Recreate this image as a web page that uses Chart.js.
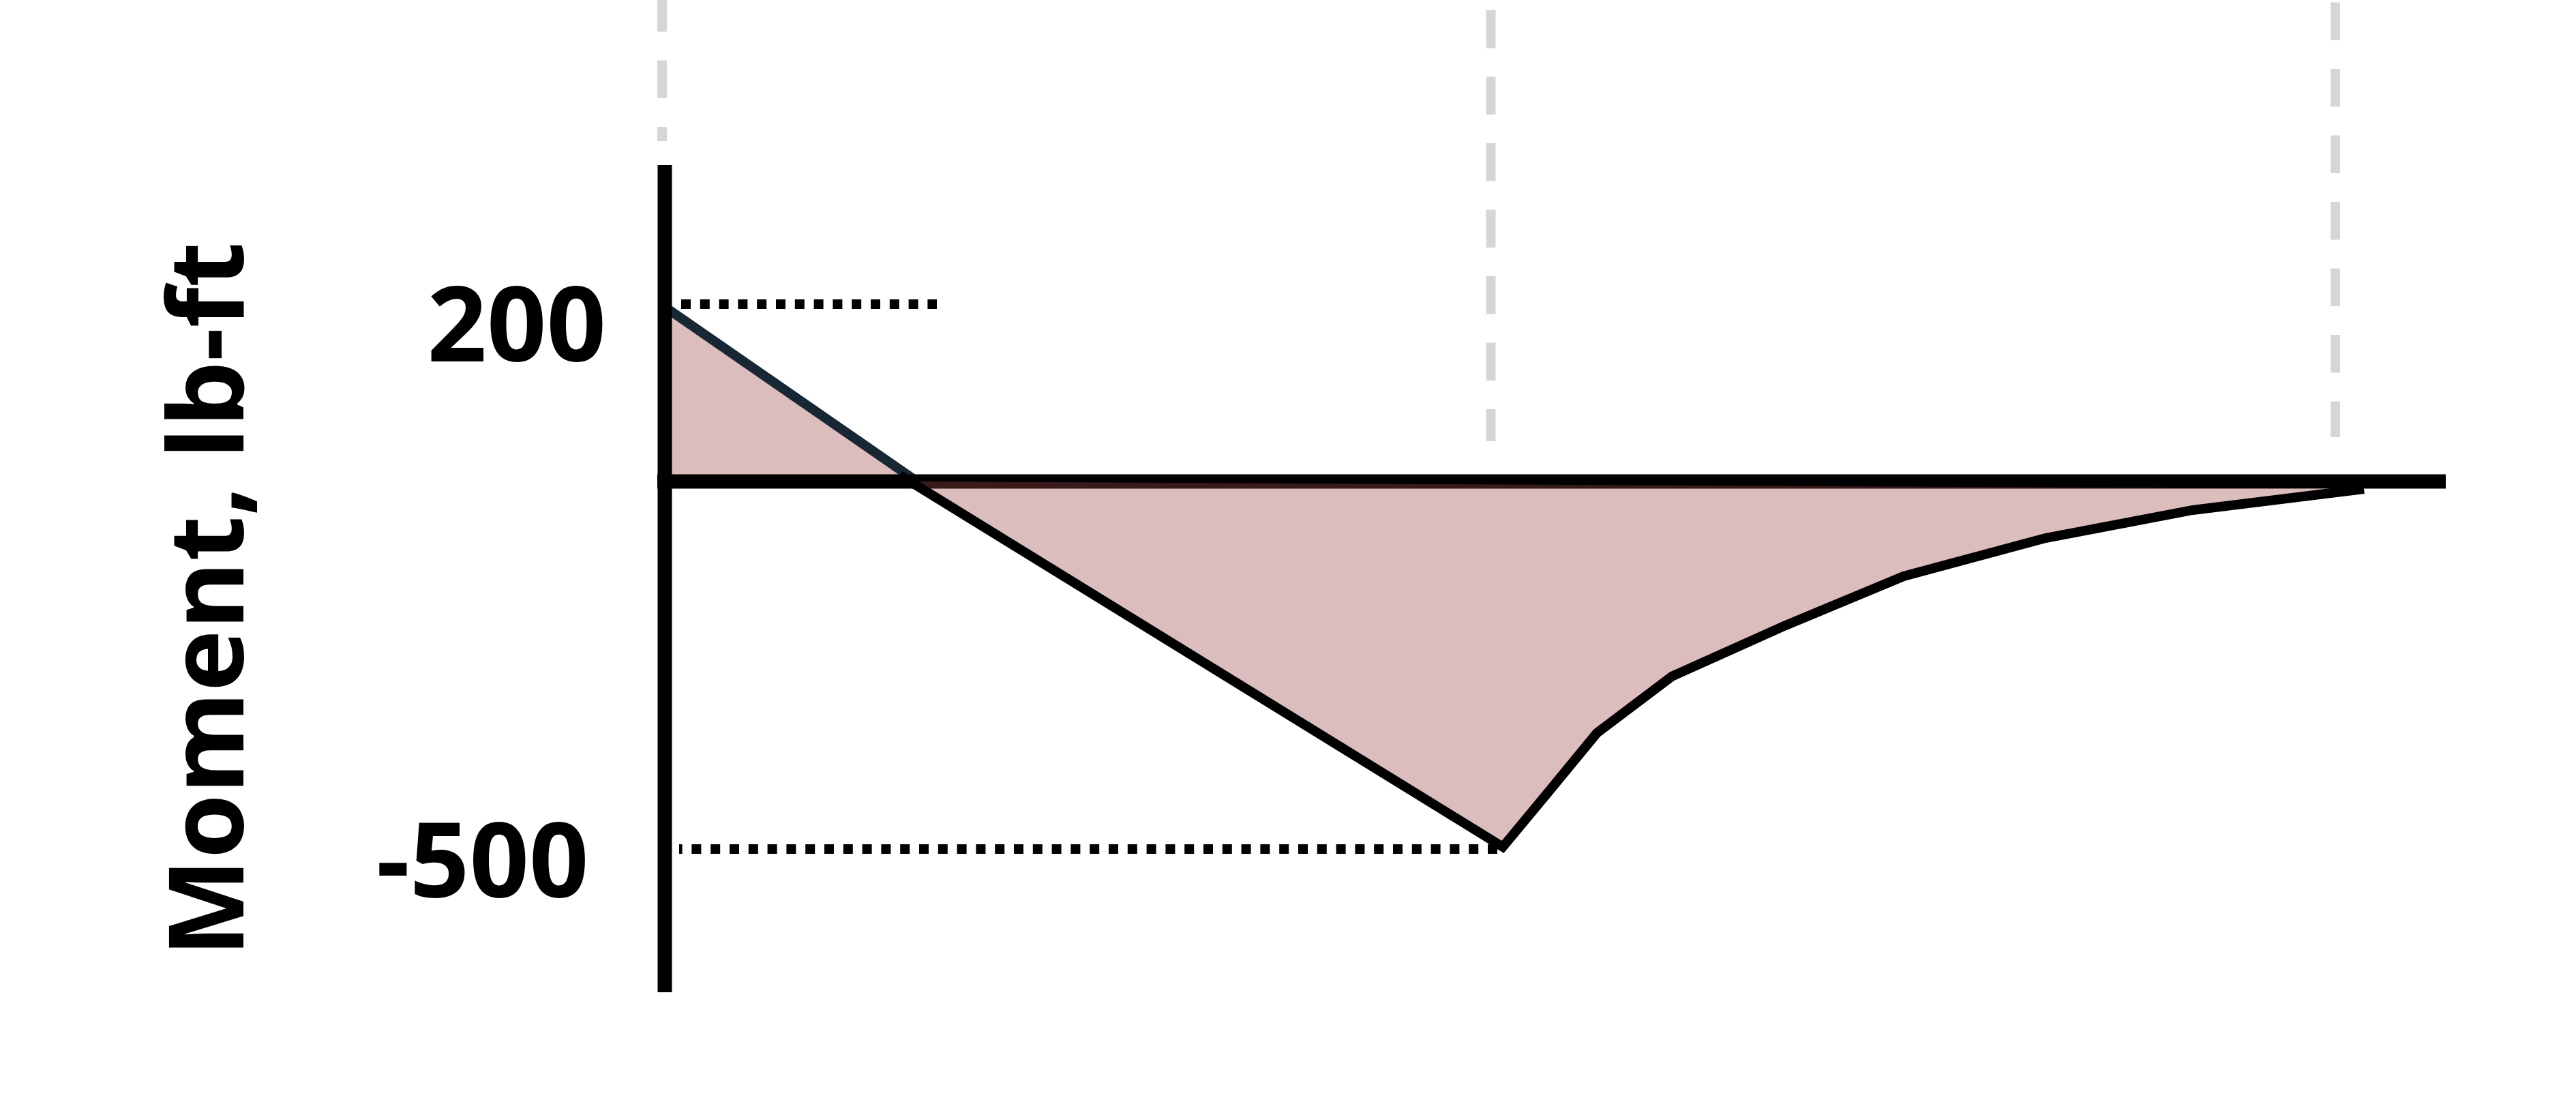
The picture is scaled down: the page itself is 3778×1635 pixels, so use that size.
<!DOCTYPE html>
<html>
<head>
  <title>Moment Diagram</title>
  <script src="https://cdn.jsdelivr.net/npm/chart.js"></script>
  <style>
    html, body { margin: 0; padding: 0; background: #fff; overflow: hidden; }
    canvas { display: block; }
  </style>
</head>
<body>
<canvas id="myChart" width="3778" height="1635"></canvas>

<script>
// Moment along the beam: x in ft, moment in lb-ft
var positiveX = [0, 1.48];
var positiveM = [227.8, 0];
var negativeX = [1.38, 4.916, 5.188, 5.468, 5.908, 6.576, 7.268, 8.10, 8.964, 9.968];
var negativeM = [8.0, -477.0, -404.1, -328.4, -254.5, -187.8, -123.7, -73.9, -37.4, -9.8];

// dotted markers for the max and min moment
var maxMarkX = [0.096, 1.596];
var maxMarkM = 231.4;
var minMarkX = [4.884, 0.084];
var minMarkM = -479.7;

// gray dashed guides (support positions)
var guideX = [-0.016, 4.846, 9.80];
var guideTop = [636.4, 615.0, 625.2];
var guideBottom = [444.1, 52.5, 57.8];

// beam (zero) line and vertical axis line
var beamX = [-0.044, 10.448];
var axisM = [413.0, -666.6];

// y tick labels
var yTicks = [200, -500];
var yTickLabels = ['200', '-500\u2006'];

function pts(xs, ys) {
  return xs.map(function(x, i) { return {x: x, y: ys[i]}; });
}

// shaded area of the negative part, closed back to the zero crossing
var shadeX = [positiveX[1]].concat(negativeX.slice(1));
var shadeM = [0].concat(negativeM.slice(1));

var fillColor = 'rgba(157, 73, 74, 0.36)';
var font = { family: "'Open Sans'", size: 153, weight: 'bold' };

var datasets = [
  {
    // positive part, filled to zero
    data: pts(positiveX, positiveM),
    borderColor: '#172834',
    borderWidth: 14,
    backgroundColor: fillColor,
    fill: 'origin',
    order: 7
  },
  {
    // beam line
    data: pts(beamX, [0, 0]),
    borderColor: '#000',
    borderWidth: 21,
    fill: false,
    order: 6
  },
  {
    // negative area
    data: pts(shadeX, shadeM),
    borderColor: 'rgba(0,0,0,0)',
    borderWidth: 1,
    backgroundColor: fillColor,
    fill: 'shape',
    order: 5
  },
  {
    // negative part line
    data: pts(negativeX, negativeM),
    borderColor: '#000',
    borderWidth: 14,
    fill: false,
    order: 4
  },
  {
    data: pts(maxMarkX, [maxMarkM, maxMarkM]),
    borderColor: '#000',
    borderWidth: 14,
    borderDash: [14, 13.8],
    fill: false,
    order: 3
  },
  {
    data: pts(minMarkX, [minMarkM, minMarkM]),
    borderColor: '#000',
    borderWidth: 14,
    borderDash: [14, 13.8],
    fill: false,
    order: 3
  },
  {
    // vertical axis line
    data: pts([0, 0], axisM),
    borderColor: '#000',
    borderWidth: 21,
    fill: false,
    order: 1
  }
];

guideX.forEach(function(x, i) {
  datasets.push({
    data: pts([x, x], [guideTop[i], guideBottom[i]]),
    borderColor: '#d6d6d6',
    borderWidth: 14,
    borderDash: [55.5, 42],
    fill: false,
    clip: false,
    order: 2
  });
});

var ctx = document.getElementById('myChart').getContext('2d');
var chart = new Chart(ctx, {
  type: 'line',
  data: { datasets: datasets },
  options: {
    responsive: false,
    animation: false,
    devicePixelRatio: 1,
    layout: { padding: { top: 200, bottom: 77, left: 0, right: 153 } },
    elements: {
      point: { radius: 0 },
      line: { tension: 0, borderCapStyle: 'butt', borderJoinStyle: 'miter' }
    },
    plugins: {
      legend: { display: false },
      tooltip: { enabled: false }
    },
    scales: {
      x: { type: 'linear', display: false, min: -0.2, max: 10.6 },
      y: {
        type: 'linear',
        min: -758.3,
        max: 450.3,
        afterFit: function(scale) {
          // fixed axis width, and no extra room for the label overflow
          scale.width = 925;
          scale.paddingTop = 0;
          scale.paddingBottom = 0;
        },
        afterBuildTicks: function(scale) {
          scale.ticks = yTicks.map(function(v) { return {value: v}; });
        },
        grid: { display: false, drawTicks: false },
        border: { display: false },
        ticks: {
          padding: 36,
          labelOffset: 5,
          color: '#000',
          font: font,
          callback: function(value, index) { return yTickLabels[index]; }
        },
        title: {
          display: true,
          text: 'Moment, lb-ft',
          color: '#000',
          font: font,
          padding: { top: 222, bottom: 0 }
        }
      }
    }
  }
});
</script>
</body>
</html>
